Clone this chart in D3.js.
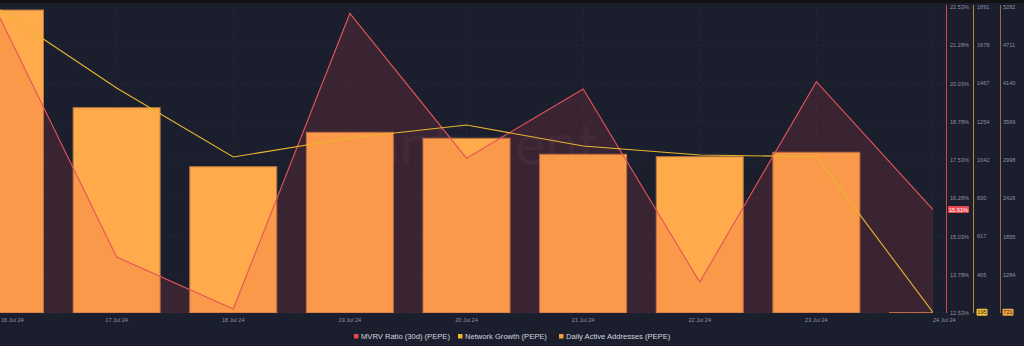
<!DOCTYPE html>
<html><head><meta charset="utf-8">
<script src="https://cdn.jsdelivr.net/npm/d3@7"></script>
<style>
html,body{margin:0;padding:0;background:#1b1e2d;}
svg{display:block;font-family:"Liberation Sans",Arial,sans-serif;}
</style></head>
<body>
<svg id="c" width="1024" height="346"></svg>
<script>
const dates = ["16 Jul 24","17 Jul 24","18 Jul 24","19 Jul 24","20 Jul 24","21 Jul 24","22 Jul 24","23 Jul 24","24 Jul 24"];
const mvrv = [22.17, 14.36, 12.66, 22.32, 17.59, 19.85, 13.54, 20.09, 15.91];
const networkGrowth = [1874, 1441, 1058, 1164, 1236, 1119, 1069, 1060, 195];
const dailyActive = [5237, 3779, 2898, 3411, 3322, 3083, 3047, 3113, 721];
const mvrvTicks = ["22.53%","21.28%","20.03%","18.78%","17.53%","16.28%","15.03%","13.78%","12.53%"];
const ngTicks = ["1891","1679","1467","1254","1042","830","617","405"];
const daaTicks = ["5282","4711","4140","3569","2998","2426","1855","1284"];
const legendNames = ["MVRV Ratio (30d) (PEPE)","Network Growth (PEPE)","Daily Active Addresses (PEPE)"];

const svg = d3.select("#c");
const W = 1024, H = 346;
const plotTop = 7, plotBottom = 313, plotRight = 933, gridRight = 945;

svg.append("rect").attr("width",W).attr("height",H).attr("fill","#1b1e2d");
svg.append("rect").attr("width",W).attr("height",3).attr("fill","#121212");

const x = d3.scalePoint().domain(dates).range([0, plotRight]);
const yM = d3.scaleLinear().domain([12.53, 22.53]).range([plotBottom, plotTop]);
const yN = d3.scaleLinear().domain([191.9, 1891]).range([plotBottom, plotTop]);
const yD = d3.scaleLinear().domain([713, 5282]).range([plotBottom, plotTop]);

svg.append("defs").append("clipPath").attr("id","pc")
  .append("rect").attr("x",0).attr("y",0).attr("width",plotRight).attr("height",plotBottom);

// grid
const grid = svg.append("g");
mvrvTicks.forEach(t => {
  const v = parseFloat(t);
  grid.append("line").attr("x1",0).attr("x2",gridRight).attr("y1",yM(v)).attr("y2",yM(v))
    .attr("stroke","rgba(255,255,255,0.045)").attr("stroke-dasharray","3,3");
});
dates.forEach(d => {
  grid.append("line").attr("x1",x(d)).attr("x2",x(d)).attr("y1",plotTop).attr("y2",plotBottom)
    .attr("stroke","rgba(255,255,255,0.045)").attr("stroke-dasharray","3,3");
});

// watermark
svg.append("text").attr("x",472).attr("y",165).attr("text-anchor","middle")
  .attr("font-size",58).attr("font-family","Lato, 'Liberation Sans', sans-serif")
  .attr("fill","rgba(255,255,255,0.035)").text("santiment");

const plot = svg.append("g").attr("clip-path","url(#pc)");

// bars
const bw = 87;
plot.selectAll("rect.bar").data(dates).join("rect").attr("class","bar")
  .attr("x", d => x(d) - bw/2)
  .attr("y", (d,i) => yD(dailyActive[i]))
  .attr("width", bw)
  .attr("height", (d,i) => plotBottom - yD(dailyActive[i]))
  .attr("fill","#ffaa4b")
  .attr("stroke","#b57641").attr("stroke-width",1);

// mvrv area + line
const area = d3.area().x((d,i)=>x(dates[i])).y0(plotBottom).y1(d=>yM(d));
plot.append("path").datum(mvrv).attr("d",area).attr("fill","rgba(232,68,80,0.16)");
const lineM = d3.line().x((d,i)=>x(dates[i])).y(d=>yM(d));
plot.append("path").datum(mvrv).attr("d",lineM).attr("fill","none")
  .attr("stroke","#e5535b").attr("stroke-width",1.1);

// network growth line
const lineN = d3.line().x((d,i)=>x(dates[i])).y(d=>yN(d));
plot.append("path").datum(networkGrowth).attr("d",lineN).attr("fill","none")
  .attr("stroke","#e9b52f").attr("stroke-width",1.1);

// x labels
dates.forEach((d,i) => {
  let anchor = "middle", xx = x(d);
  if (i === 0) { anchor = "start"; xx = 1; }
  if (i === dates.length-1) { anchor = "start"; xx = x(d); }
  svg.append("text").attr("x",xx).attr("y",322).attr("text-anchor",anchor)
    .attr("font-size",5.6).attr("fill","#8d92a3").text(d);
});

// right axes
svg.append("line").attr("x1",946.5).attr("x2",946.5).attr("y1",5).attr("y2",plotBottom)
  .attr("stroke","#d2454b").attr("stroke-width",1);
svg.append("line").attr("x1",973.5).attr("x2",973.5).attr("y1",5).attr("y2",plotBottom)
  .attr("stroke","#b58a2e").attr("stroke-width",1);
svg.append("line").attr("x1",1000.5).attr("x2",1000.5).attr("y1",5).attr("y2",plotBottom)
  .attr("stroke","#9c6a3c").attr("stroke-width",1);

mvrvTicks.forEach(t => {
  svg.append("text").attr("x",950).attr("y",yM(parseFloat(t))+2).attr("font-size",5.6)
    .attr("fill","#8d92a3").text(t);
});
ngTicks.forEach(t => {
  svg.append("text").attr("x",977).attr("y",yN(+t)+2).attr("font-size",5.6)
    .attr("fill","#8d92a3").text(t);
});
daaTicks.forEach(t => {
  svg.append("text").attr("x",1003).attr("y",yD(+t)+2).attr("font-size",5.6)
    .attr("fill","#8d92a3").text(t);
});

// badges
function badge(xp, yc, w, bg, fg, txt) {
  svg.append("rect").attr("x",xp).attr("y",yc-3.5).attr("width",w).attr("height",7)
    .attr("rx",1).attr("fill",bg);
  svg.append("text").attr("x",xp+w/2).attr("y",yc+2).attr("text-anchor","middle")
    .attr("font-size",5.6).attr("fill",fg).text(txt);
}
const last = dates.length-1;
badge(948, yM(mvrv[last]), 21, "#e64a50", "#ffffff", mvrv[last].toFixed(2)+"%");
badge(976.5, Math.min(yN(networkGrowth[last]), 312.3), 11, "#f4c23c", "#2a2a2a", String(networkGrowth[last]));
badge(1002.5, Math.min(yD(dailyActive[last]), 312.3), 11, "#f6a540", "#2a2a2a", String(dailyActive[last]));

// legend
const legColors = ["#e5484f","#f2b52a","#f89c3e"];
const legX = [354, 458, 559];
legendNames.forEach((n,i) => {
  svg.append("rect").attr("x",legX[i]).attr("y",334).attr("width",4.5).attr("height",4.5)
    .attr("fill",legColors[i]);
  svg.append("text").attr("x",legX[i]+7).attr("y",339).attr("font-size",7.6)
    .attr("fill","#d3d6de").text(n);
});
</script>
</body></html>
